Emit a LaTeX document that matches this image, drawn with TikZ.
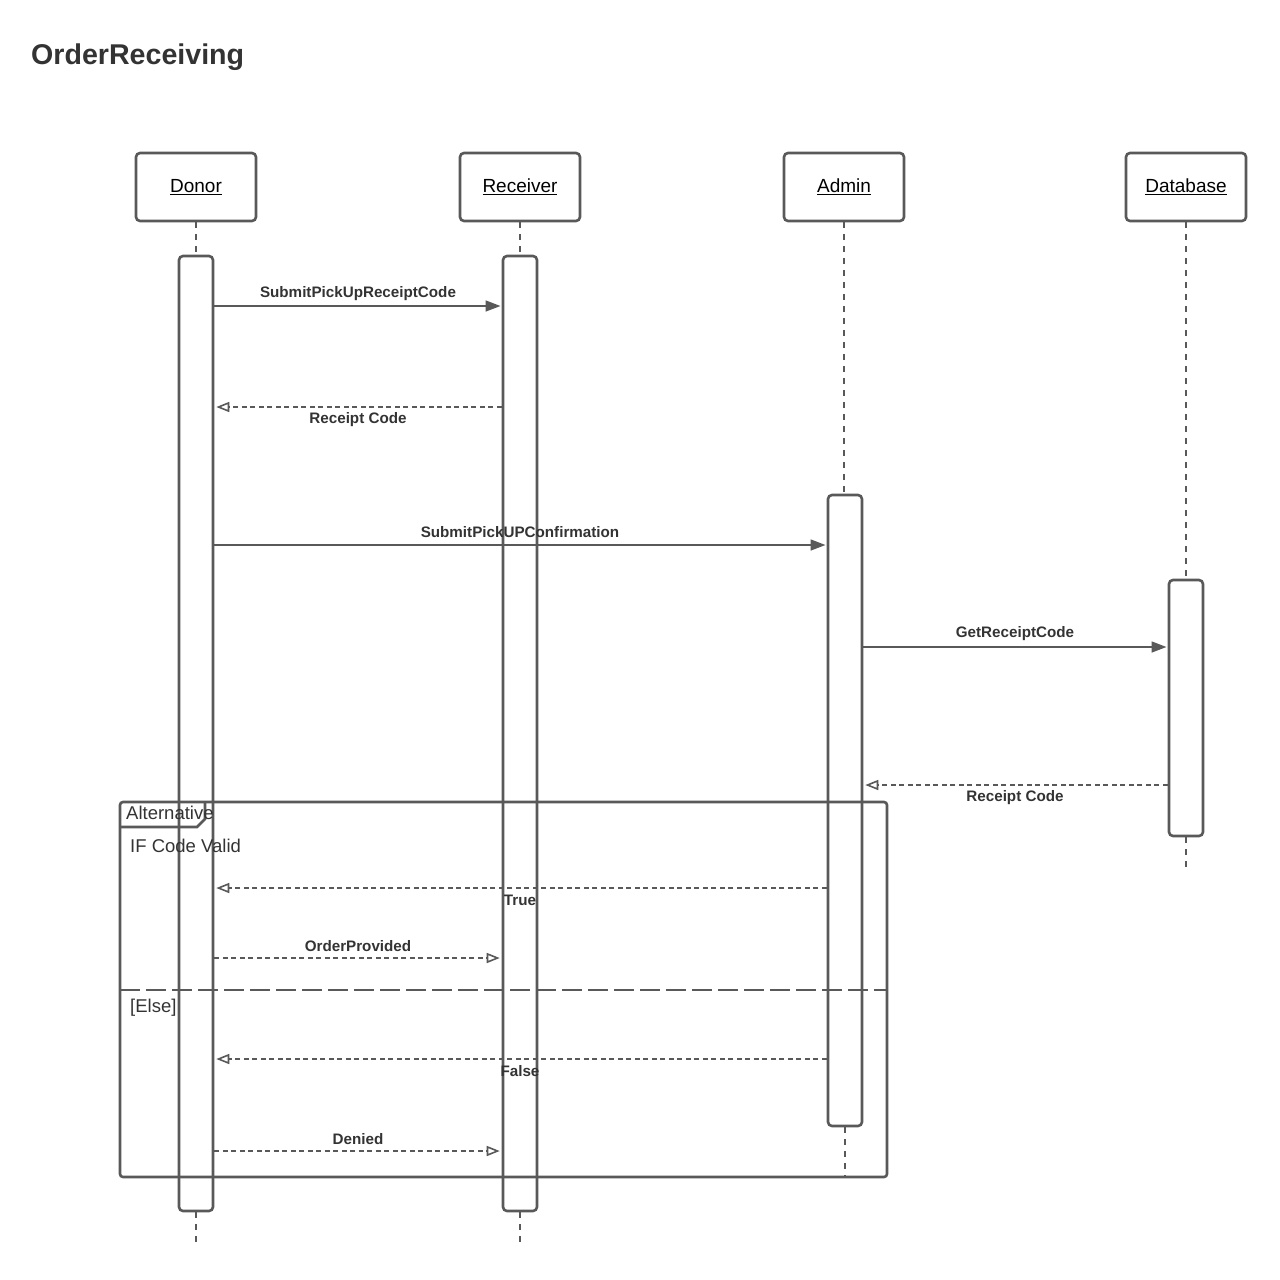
\documentclass[tikz,border=0pt]{standalone}
\usepackage{fontspec}
\setmainfont{Liberation Sans}
\usetikzlibrary{arrows.meta}
\definecolor{ln}{HTML}{595959}
\definecolor{tx}{HTML}{333333}
\tikzset{
  headbox/.style={draw=ln, line width=2.6pt, rounded corners=4pt, fill=white,
    minimum width=120pt, minimum height=68pt, inner sep=0pt, text=black,
    font=\fontsize{19}{22}\selectfont},
  actbox/.style={draw=ln, line width=2.6pt, rounded corners=4pt, fill=white,
    minimum width=34pt, inner sep=0pt},
  lifeln/.style={draw=ln, line width=1.5pt, dash pattern=on 6pt off 6pt},
  callmsg/.style={draw=ln, line width=1.6pt, -{Triangle[length=15pt,width=11pt]}, shorten >=1.2pt},
  retmsg/.style={draw=ln, line width=1.5pt, dash pattern=on 5pt off 3.5pt,
    -{Triangle[open,length=13pt,width=10pt,line width=1.6pt]}, shorten >=2pt},
  msglbl/.style={text=tx, font=\bfseries\fontsize{15.2}{18}\selectfont, inner sep=0pt, yshift=-2pt},
  framelbl/.style={text=tx, font=\fontsize{18.5}{21}\selectfont, inner sep=0pt, anchor=west},
}
\begin{document}
\begin{tikzpicture}[x=1pt,y=-1pt]
\useasboundingbox (0,0) rectangle (1280,1280);
% title
\node[text=tx, font=\bfseries\fontsize{28.6}{32}\selectfont, anchor=west, inner sep=0pt] (title) at (31,57) {OrderReceiving};
% heads
\node[headbox] (donor) at (196,187) {\underline{Donor}};
\node[headbox] (recv) at (520,187) {\underline{Receiver}};
\node[headbox] (admin) at (844,187) {\underline{Admin}};
\node[headbox] (db) at (1186,187) {\underline{Database}};
% lifeline end points
\coordinate (donorEnd) at (196,1245);
\coordinate (recvEnd) at (520,1245);
\coordinate (adminEnd) at (845,1177);
\coordinate (dbEnd) at (1186,870);
% activations
\node[actbox, minimum height=955pt] (dA) at (196,733.5) {};
\node[actbox, minimum height=955pt] (rA) at (520,733.5) {};
\node[actbox, minimum height=631pt] (aA) at (845,810.5) {};
\node[actbox, minimum height=256pt] (bA) at (1186,708) {};
% lifelines
\draw[lifeln] (donor.south) -- (dA.north);
\draw[lifeln] (dA.south) -- (donorEnd);
\draw[lifeln] (recv.south) -- (rA.north);
\draw[lifeln] (rA.south) -- (recvEnd);
\draw[lifeln] (admin.south) -- (admin.south |- aA.north);
\draw[lifeln] (aA.south) -- (adminEnd);
\draw[lifeln] (db.south) -- (bA.north);
\draw[lifeln] (bA.south) -- (dbEnd);
% message rows
\coordinate (m1) at (0,306);
\coordinate (m2) at (0,407);
\coordinate (m3) at (0,545);
\coordinate (m4) at (0,647);
\coordinate (m5) at (0,785);
\coordinate (m6) at (0,888);
\coordinate (m7) at (0,958);
\coordinate (m8) at (0,1059);
\coordinate (m9) at (0,1151);
% messages
\draw[callmsg] (dA.east |- m1) -- (rA.west |- m1);
\node[msglbl] (l1) at (358,292) {SubmitPickUpReceiptCode};
\draw[retmsg] (rA.west |- m2) -- (dA.east |- m2);
\node[msglbl] (l2) at (358,418) {Receipt Code};
\draw[callmsg] (dA.east |- m3) -- (aA.west |- m3);
\node[msglbl] (l3) at (520,530) {SubmitPickUPConfirmation};
\draw[callmsg] (aA.east |- m4) -- (bA.west |- m4);
\node[msglbl] (l4) at (1015,632) {GetReceiptCode};
\draw[retmsg] (bA.west |- m5) -- (aA.east |- m5);
\node[msglbl] (l5) at (1015,796) {Receipt Code};
\draw[retmsg] (aA.west |- m6) -- (dA.east |- m6);
\node[msglbl] (l6) at (520,898) {True};
\draw[retmsg] (dA.east |- m7) -- (rA.west |- m7);
\node[msglbl] (l7) at (358,944) {OrderProvided};
\draw[retmsg] (aA.west |- m8) -- (dA.east |- m8);
\node[msglbl] (l8) at (520,1069) {False};
\draw[retmsg] (dA.east |- m9) -- (rA.west |- m9);
\node[msglbl] (l9) at (358,1137) {Denied};
% alternative frame
\draw[ln, line width=2.6pt, rounded corners=3pt] (120,802) rectangle (887,1177);
\draw[ln, line width=2.6pt] (120,827) -- (197,827) -- (205,819) -- (205,802);
\draw[ln, line width=2.6pt, dash pattern=on 20pt off 6pt] (120,990) -- (887,990);
\node[framelbl] (alt) at (126,813) {Alternative};
\node[framelbl] (cond1) at (130,846) {IF Code Valid};
\node[framelbl] (cond2) at (130,1008) {[Else]};
\end{tikzpicture}
\end{document}
